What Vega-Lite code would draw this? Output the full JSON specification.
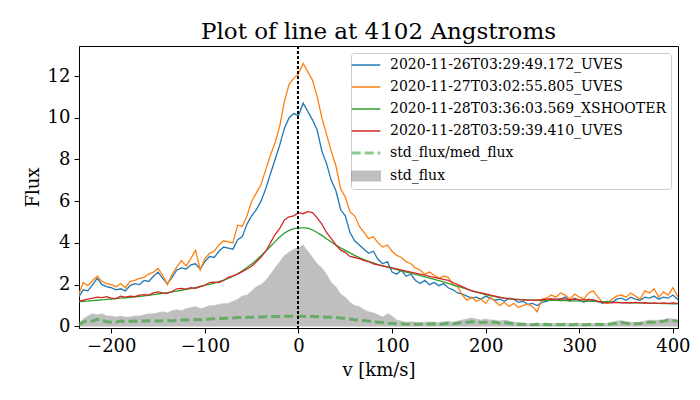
{
  "$schema": "https://vega.github.io/schema/vega-lite/v6.json",
  "autosize": {"type": "none"},
  "width": 599,
  "height": 282,
  "padding": {"left": 79, "top": 46, "right": 22, "bottom": 72},
  "title": {"text": "Plot of line at 4102 Angstroms", "font": "DejaVu Serif", "fontSize": 23, "fontWeight": "normal", "color": "black", "anchor": "middle", "baseline": "alphabetic", "offset": 9, "dy": 25},
  "data": {
    "values": [
      {"v":-235,"b":1.4,"o":1.5,"g":1.18,"r":1.2,"s":0.12,"q":0.08},
      {"v":-230,"b":1.75,"o":2.1,"g":1.2,"r":1.25,"s":0.35,"q":0.2},
      {"v":-225,"b":1.7,"o":1.95,"g":1.21,"r":1.3,"s":0.5,"q":0.28},
      {"v":-220,"b":2.0,"o":2.2,"g":1.23,"r":1.35,"s":0.6,"q":0.25},
      {"v":-215,"b":2.3,"o":2.4,"g":1.25,"r":1.4,"s":0.55,"q":0.34},
      {"v":-210,"b":2.0,"o":2.15,"g":1.27,"r":1.38,"s":0.6,"q":0.3},
      {"v":-205,"b":1.9,"o":2.05,"g":1.29,"r":1.42,"s":0.5,"q":0.22},
      {"v":-200,"b":1.85,"o":2.0,"g":1.31,"r":1.35,"s":0.5,"q":0.2},
      {"v":-195,"b":1.75,"o":1.9,"g":1.33,"r":1.33,"s":0.45,"q":0.2},
      {"v":-190,"b":1.8,"o":2.05,"g":1.35,"r":1.45,"s":0.5,"q":0.26},
      {"v":-185,"b":1.7,"o":1.85,"g":1.37,"r":1.4,"s":0.45,"q":0.22},
      {"v":-180,"b":1.95,"o":2.15,"g":1.39,"r":1.45,"s":0.45,"q":0.24},
      {"v":-175,"b":2.05,"o":2.2,"g":1.41,"r":1.42,"s":0.5,"q":0.26},
      {"v":-170,"b":2.0,"o":2.3,"g":1.43,"r":1.5,"s":0.5,"q":0.23},
      {"v":-165,"b":2.2,"o":2.35,"g":1.46,"r":1.52,"s":0.55,"q":0.25},
      {"v":-160,"b":2.15,"o":2.5,"g":1.49,"r":1.5,"s":0.6,"q":0.27},
      {"v":-155,"b":2.4,"o":2.6,"g":1.52,"r":1.6,"s":0.6,"q":0.25},
      {"v":-150,"b":2.6,"o":2.78,"g":1.55,"r":1.65,"s":0.65,"q":0.26},
      {"v":-145,"b":2.3,"o":2.45,"g":1.58,"r":1.6,"s":0.7,"q":0.27},
      {"v":-140,"b":2.05,"o":2.0,"g":1.61,"r":1.58,"s":0.65,"q":0.28},
      {"v":-135,"b":2.35,"o":2.5,"g":1.65,"r":1.68,"s":0.75,"q":0.26},
      {"v":-130,"b":2.7,"o":2.85,"g":1.69,"r":1.8,"s":0.8,"q":0.3},
      {"v":-125,"b":2.8,"o":3.15,"g":1.73,"r":1.82,"s":0.75,"q":0.3},
      {"v":-120,"b":2.75,"o":2.9,"g":1.77,"r":1.78,"s":0.85,"q":0.32},
      {"v":-115,"b":2.95,"o":3.25,"g":1.81,"r":1.85,"s":0.9,"q":0.3},
      {"v":-110,"b":3.0,"o":3.65,"g":1.86,"r":1.82,"s":0.95,"q":0.33},
      {"v":-105,"b":2.75,"o":2.7,"g":1.91,"r":1.9,"s":0.85,"q":0.32},
      {"v":-100,"b":3.1,"o":3.25,"g":1.96,"r":1.98,"s":0.9,"q":0.34},
      {"v":-95,"b":3.35,"o":3.5,"g":2.01,"r":2.1,"s":1.0,"q":0.35},
      {"v":-90,"b":3.3,"o":3.6,"g":2.07,"r":2.12,"s":1.0,"q":0.36},
      {"v":-85,"b":3.6,"o":3.9,"g":2.14,"r":2.1,"s":1.05,"q":0.37},
      {"v":-80,"b":3.8,"o":4.1,"g":2.21,"r":2.2,"s":1.1,"q":0.38},
      {"v":-75,"b":3.75,"o":4.05,"g":2.3,"r":2.35,"s":1.1,"q":0.4},
      {"v":-70,"b":3.7,"o":4.0,"g":2.4,"r":2.42,"s":1.2,"q":0.4},
      {"v":-65,"b":4.15,"o":4.85,"g":2.52,"r":2.5,"s":1.3,"q":0.42},
      {"v":-60,"b":4.3,"o":4.8,"g":2.66,"r":2.62,"s":1.45,"q":0.42},
      {"v":-55,"b":4.9,"o":5.3,"g":2.82,"r":2.75,"s":1.5,"q":0.43},
      {"v":-50,"b":5.3,"o":6.0,"g":2.99,"r":2.88,"s":1.7,"q":0.44},
      {"v":-45,"b":5.6,"o":6.4,"g":3.18,"r":3.1,"s":1.9,"q":0.45},
      {"v":-40,"b":6.0,"o":6.8,"g":3.38,"r":3.32,"s":2.0,"q":0.45},
      {"v":-35,"b":6.6,"o":7.5,"g":3.6,"r":3.6,"s":2.2,"q":0.46},
      {"v":-30,"b":7.3,"o":8.2,"g":3.83,"r":4.0,"s":2.5,"q":0.46},
      {"v":-25,"b":8.0,"o":8.8,"g":4.06,"r":4.4,"s":2.8,"q":0.47},
      {"v":-20,"b":8.7,"o":9.6,"g":4.28,"r":4.7,"s":3.1,"q":0.47},
      {"v":-15,"b":9.5,"o":10.8,"g":4.47,"r":5.1,"s":3.4,"q":0.48},
      {"v":-10,"b":10.0,"o":11.6,"g":4.6,"r":5.25,"s":3.55,"q":0.48},
      {"v":-5,"b":10.2,"o":11.9,"g":4.68,"r":5.3,"s":3.7,"q":0.48},
      {"v":0,"b":10.1,"o":12.1,"g":4.72,"r":5.45,"s":3.75,"q":0.48},
      {"v":5,"b":10.7,"o":12.6,"g":4.72,"r":5.4,"s":3.9,"q":0.48},
      {"v":10,"b":10.3,"o":12.2,"g":4.71,"r":5.5,"s":3.6,"q":0.48},
      {"v":15,"b":9.9,"o":11.8,"g":4.62,"r":5.45,"s":3.3,"q":0.47},
      {"v":20,"b":9.4,"o":11.0,"g":4.5,"r":5.2,"s":3.0,"q":0.46},
      {"v":25,"b":8.4,"o":10.0,"g":4.36,"r":4.9,"s":2.8,"q":0.45},
      {"v":30,"b":7.8,"o":9.2,"g":4.2,"r":4.5,"s":2.5,"q":0.44},
      {"v":35,"b":7.0,"o":8.4,"g":4.04,"r":4.2,"s":2.1,"q":0.43},
      {"v":40,"b":6.5,"o":7.7,"g":3.9,"r":3.9,"s":1.9,"q":0.42},
      {"v":45,"b":5.6,"o":6.6,"g":3.76,"r":3.65,"s":1.55,"q":0.4},
      {"v":50,"b":5.3,"o":6.2,"g":3.64,"r":3.55,"s":1.4,"q":0.38},
      {"v":55,"b":4.5,"o":5.5,"g":3.52,"r":3.35,"s":1.15,"q":0.35},
      {"v":60,"b":4.1,"o":5.3,"g":3.4,"r":3.3,"s":1.0,"q":0.32},
      {"v":65,"b":3.9,"o":4.8,"g":3.3,"r":3.25,"s":0.95,"q":0.3},
      {"v":70,"b":3.7,"o":4.5,"g":3.2,"r":3.15,"s":0.8,"q":0.28},
      {"v":75,"b":3.5,"o":4.2,"g":3.12,"r":3.1,"s":0.7,"q":0.25},
      {"v":80,"b":3.6,"o":4.3,"g":3.04,"r":3.0,"s":0.65,"q":0.22},
      {"v":85,"b":3.2,"o":4.0,"g":2.96,"r":2.95,"s":0.55,"q":0.2},
      {"v":90,"b":3.0,"o":3.8,"g":2.9,"r":2.9,"s":0.45,"q":0.18},
      {"v":95,"b":3.1,"o":3.9,"g":2.84,"r":2.85,"s":0.6,"q":0.15},
      {"v":100,"b":2.6,"o":3.6,"g":2.78,"r":2.8,"s":0.5,"q":0.14},
      {"v":105,"b":2.5,"o":3.4,"g":2.72,"r":2.75,"s":0.3,"q":0.12},
      {"v":110,"b":2.7,"o":3.3,"g":2.66,"r":2.7,"s":0.25,"q":0.12},
      {"v":115,"b":2.4,"o":3.1,"g":2.6,"r":2.65,"s":0.2,"q":0.1},
      {"v":120,"b":2.5,"o":3.0,"g":2.55,"r":2.6,"s":0.22,"q":0.1},
      {"v":125,"b":2.2,"o":2.8,"g":2.49,"r":2.55,"s":0.2,"q":0.1},
      {"v":130,"b":2.05,"o":2.7,"g":2.43,"r":2.5,"s":0.18,"q":0.1},
      {"v":135,"b":2.2,"o":2.5,"g":2.37,"r":2.45,"s":0.2,"q":0.12},
      {"v":140,"b":2.0,"o":2.6,"g":2.31,"r":2.4,"s":0.22,"q":0.1},
      {"v":145,"b":2.1,"o":2.45,"g":2.25,"r":2.35,"s":0.2,"q":0.12},
      {"v":150,"b":1.95,"o":2.3,"g":2.19,"r":2.3,"s":0.18,"q":0.1},
      {"v":155,"b":2.05,"o":2.4,"g":2.13,"r":2.25,"s":0.22,"q":0.12},
      {"v":160,"b":1.85,"o":2.35,"g":2.06,"r":2.2,"s":0.25,"q":0.14},
      {"v":165,"b":1.75,"o":2.0,"g":1.99,"r":2.1,"s":0.2,"q":0.12},
      {"v":170,"b":1.6,"o":1.9,"g":1.92,"r":2.0,"s":0.25,"q":0.15},
      {"v":175,"b":1.55,"o":1.5,"g":1.85,"r":1.9,"s":0.3,"q":0.18},
      {"v":180,"b":1.45,"o":1.25,"g":1.78,"r":1.8,"s":0.35,"q":0.2},
      {"v":185,"b":1.35,"o":1.4,"g":1.71,"r":1.7,"s":0.4,"q":0.22},
      {"v":190,"b":1.4,"o":1.2,"g":1.64,"r":1.65,"s":0.35,"q":0.2},
      {"v":195,"b":1.3,"o":1.3,"g":1.58,"r":1.6,"s":0.3,"q":0.18},
      {"v":200,"b":1.45,"o":1.1,"g":1.52,"r":1.55,"s":0.35,"q":0.2},
      {"v":205,"b":1.35,"o":1.4,"g":1.47,"r":1.5,"s":0.3,"q":0.18},
      {"v":210,"b":1.25,"o":1.2,"g":1.42,"r":1.45,"s":0.3,"q":0.2},
      {"v":215,"b":1.3,"o":1.0,"g":1.38,"r":1.4,"s":0.25,"q":0.15},
      {"v":220,"b":1.2,"o":1.15,"g":1.35,"r":1.35,"s":0.3,"q":0.18},
      {"v":225,"b":1.35,"o":0.95,"g":1.32,"r":1.33,"s":0.25,"q":0.15},
      {"v":230,"b":1.3,"o":1.1,"g":1.3,"r":1.3,"s":0.2,"q":0.12},
      {"v":235,"b":1.15,"o":0.9,"g":1.29,"r":1.28,"s":0.18,"q":0.1},
      {"v":240,"b":1.2,"o":1.0,"g":1.28,"r":1.27,"s":0.15,"q":0.1},
      {"v":245,"b":1.05,"o":1.05,"g":1.27,"r":1.26,"s":0.14,"q":0.09},
      {"v":250,"b":1.1,"o":0.95,"g":1.26,"r":1.26,"s":0.12,"q":0.08},
      {"v":255,"b":1.0,"o":0.7,"g":1.26,"r":1.25,"s":0.15,"q":0.1},
      {"v":260,"b":1.15,"o":1.3,"g":1.25,"r":1.28,"s":0.12,"q":0.08},
      {"v":265,"b":1.2,"o":1.35,"g":1.25,"r":1.3,"s":0.15,"q":0.1},
      {"v":270,"b":1.3,"o":1.5,"g":1.24,"r":1.32,"s":0.13,"q":0.08},
      {"v":275,"b":1.25,"o":1.4,"g":1.24,"r":1.3,"s":0.15,"q":0.09},
      {"v":280,"b":1.3,"o":1.6,"g":1.23,"r":1.32,"s":0.14,"q":0.08},
      {"v":285,"b":1.4,"o":1.5,"g":1.23,"r":1.3,"s":0.15,"q":0.1},
      {"v":290,"b":1.2,"o":1.3,"g":1.22,"r":1.28,"s":0.13,"q":0.08},
      {"v":295,"b":1.35,"o":1.55,"g":1.22,"r":1.3,"s":0.14,"q":0.09},
      {"v":300,"b":1.25,"o":1.4,"g":1.21,"r":1.28,"s":0.15,"q":0.1},
      {"v":305,"b":1.15,"o":1.3,"g":1.21,"r":1.27,"s":0.13,"q":0.08},
      {"v":310,"b":1.3,"o":1.6,"g":1.2,"r":1.28,"s":0.14,"q":0.09},
      {"v":315,"b":1.25,"o":1.7,"g":1.2,"r":1.27,"s":0.12,"q":0.08},
      {"v":320,"b":1.2,"o":1.4,"g":1.19,"r":1.2,"s":0.15,"q":0.1},
      {"v":325,"b":1.1,"o":1.15,"g":1.18,"r":1.15,"s":0.14,"q":0.09},
      {"v":330,"b":1.2,"o":1.1,"g":1.17,"r":1.12,"s":0.15,"q":0.1},
      {"v":335,"b":1.15,"o":1.3,"g":1.16,"r":1.13,"s":0.2,"q":0.12},
      {"v":340,"b":1.3,"o":1.45,"g":1.15,"r":1.15,"s":0.25,"q":0.15},
      {"v":345,"b":1.35,"o":1.5,"g":1.14,"r":1.12,"s":0.28,"q":0.18},
      {"v":350,"b":1.25,"o":1.4,"g":1.14,"r":1.14,"s":0.22,"q":0.15},
      {"v":355,"b":1.4,"o":1.6,"g":1.13,"r":1.12,"s":0.2,"q":0.12},
      {"v":360,"b":1.3,"o":1.45,"g":1.12,"r":1.15,"s":0.18,"q":0.12},
      {"v":365,"b":1.25,"o":1.3,"g":1.12,"r":1.12,"s":0.2,"q":0.14},
      {"v":370,"b":1.4,"o":1.7,"g":1.11,"r":1.13,"s":0.25,"q":0.18},
      {"v":375,"b":1.35,"o":1.6,"g":1.11,"r":1.1,"s":0.3,"q":0.2},
      {"v":380,"b":1.45,"o":1.8,"g":1.1,"r":1.12,"s":0.28,"q":0.2},
      {"v":385,"b":1.3,"o":1.4,"g":1.1,"r":1.1,"s":0.3,"q":0.22},
      {"v":390,"b":1.4,"o":1.65,"g":1.09,"r":1.12,"s":0.32,"q":0.24},
      {"v":395,"b":1.35,"o":1.5,"g":1.09,"r":1.1,"s":0.38,"q":0.3},
      {"v":400,"b":1.5,"o":1.85,"g":1.08,"r":1.12,"s":0.35,"q":0.28},
      {"v":405,"b":1.3,"o":1.45,"g":1.08,"r":1.1,"s":0.3,"q":0.25},
      {"v":410,"b":1.15,"o":1.2,"g":1.07,"r":1.08,"s":0.28,"q":0.22}
    ]
  },
  "encoding": {
    "x": {
      "field": "v",
      "type": "quantitative",
      "title": "v [km/s]",
      "scale": {"domain": [-234.5, 405.5], "nice": false, "zero": false},
      "axis": {"values": [-200, -100, 0, 100, 200, 300, 400]}
    }
  },
  "layer": [
    {
      "mark": {"type": "area", "opacity": 0.5, "stroke": "#808080", "strokeWidth": 1, "strokeOpacity": 0.5, "clip": true},
      "encoding": {
        "y": {"field": "s", "type": "quantitative", "title": "Flux", "scale": {"domain": [-0.08, 13.44], "nice": false, "zero": false}, "axis": {"values": [0, 2, 4, 6, 8, 10, 12]}},
        "y2": {"datum": 0},
        "color": {"datum": "s"}
      }
    },
    {
      "mark": {"type": "line", "opacity": 0.6, "strokeWidth": 3, "strokeDash": [9, 4], "clip": true},
      "encoding": {
        "y": {"field": "q", "type": "quantitative"},
        "color": {"datum": "q"}
      }
    },
    {
      "transform": [{"fold": ["b", "o", "g", "r"], "as": ["series", "flux"]}],
      "mark": {"type": "line", "strokeWidth": 1.3, "clip": true},
      "encoding": {
        "y": {"field": "flux", "type": "quantitative"},
        "color": {
          "field": "series",
          "type": "nominal",
          "scale": {
            "domain": ["b", "o", "g", "r", "q", "s"],
            "range": ["#1f77b4", "#ff7f0e", "#2ca02c", "#d62728", "#2ca02c", "#808080"]
          },
          "legend": {
            "labelFont": "DejaVu Serif",
            "labelFontSize": 14,
            "labelLimit": 400,
            "strokeColor": "#cccccc",
            "labelExpr": "{'b': '2020-11-26T03:29:49.172_UVES', 'o': '2020-11-27T03:02:55.805_UVES', 'g': '2020-11-28T03:36:03.569_XSHOOTER', 'r': '2020-11-28T03:59:39.410_UVES', 'q': 'std_flux/med_flux', 's': 'std_flux'}[datum.value]",
            "encode": {
              "symbols": {
                "update": {
                  "shape": {"signal": "datum.value === 's' ? 'M-1.3,-0.45H1.3V0.45H-1.3Z' : 'M-1.3,0H1.3'"},
                  "fill": {"signal": "datum.value === 's' ? '#808080' : 'transparent'"},
                  "stroke": {"signal": "datum.value === 's' ? '#808080' : scale('color', datum.value)"},
                  "strokeDash": {"signal": "datum.value === 'q' ? [9, 4] : [1, 0]"},
                  "strokeWidth": {"signal": "datum.value === 'q' ? 3 : 1.3"},
                  "opacity": {"signal": "datum.value === 'q' ? 0.55 : (datum.value === 's' ? 0.5 : 1)"}
                }
              }
            }
          }
        },
        "detail": {"field": "series"}
      }
    },
    {
      "mark": {"type": "rule", "color": "black", "strokeWidth": 0.7, "strokeDash": [3, 2]},
      "encoding": {"x": {"datum": 0}}
    }
  ],
  "config": {
    "font": "DejaVu Serif",
    "view": {"stroke": "black", "strokeWidth": 1},
    "axis": {
      "grid": false,
      "domainColor": "black",
      "tickColor": "black",
      "tickSize": 5,
      "labelPadding": 4,
      "labelFont": "DejaVu Serif",
      "labelFontSize": 18,
      "labelColor": "black",
      "titleFont": "DejaVu Serif",
      "titleFontSize": 18,
      "titleFontWeight": "normal",
      "titleColor": "black"
    },
    "axisX": {"titlePadding": 6, "labelFlush": false},
    "axisY": {"titlePadding": 5},
    "legend": {
      "orient": "top-right",
      "offset": 7,
      "title": null,
      "labelFont": "DejaVu Serif",
      "labelFontSize": 14,
      "labelColor": "black",
      "strokeColor": "#cccccc",
      "fillColor": "rgba(255,255,255,0.8)",
      "cornerRadius": 3,
      "padding": 5,
      "rowPadding": 8,
      "symbolSize": 484,
      "symbolOffset": 3,
      "labelOffset": 17
    }
  }
}
